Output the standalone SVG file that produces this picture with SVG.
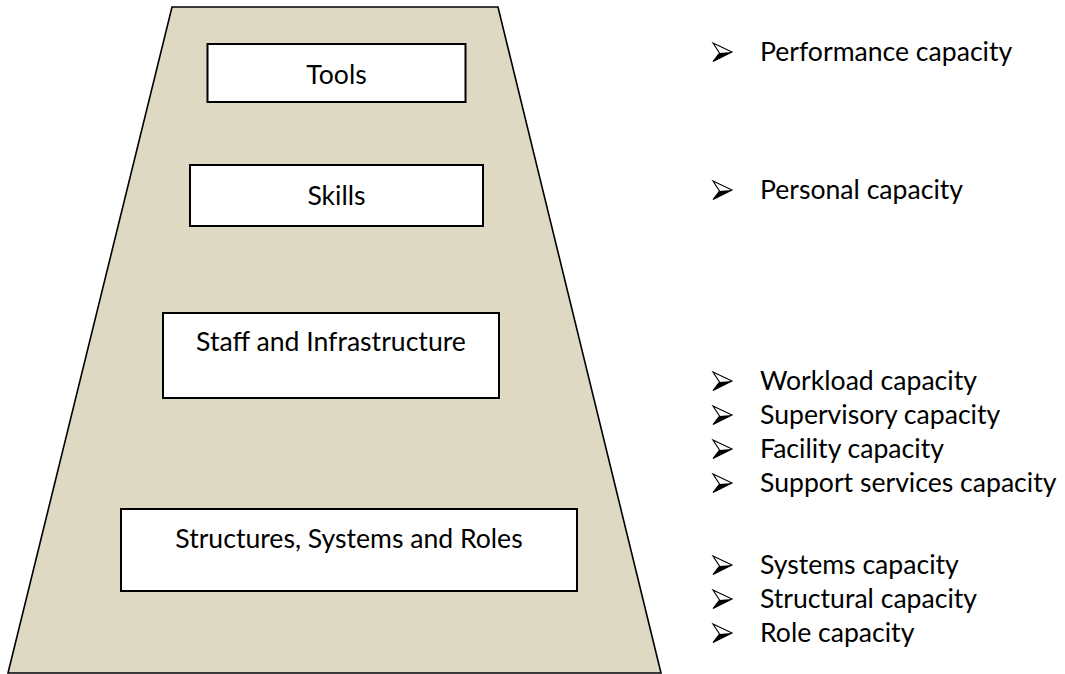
<svg xmlns="http://www.w3.org/2000/svg" width="1065" height="674" viewBox="0 0 1065 674">
  <style>
    .base { fill: #DDD9C3; stroke: #000; stroke-width: 1.6; stroke-linejoin: miter; }
    .box { fill: #fff; stroke: #000; stroke-width: 2; }
    .lbl { font-family: Lato, "Open Sans", "Liberation Sans", sans-serif; font-size: 26.6px; fill: #000; }
    .mid { text-anchor: middle; }
  </style>
  <defs>
    <!-- 3D arrowhead bullet: light upper face, dark lower face -->
    <g id="bullet">
      <path d="M0,-9 L19,0 L0,9.5 L6.5,1 Z" fill="#fff" stroke="#000" stroke-width="1.1" stroke-linejoin="miter"/>
      <path d="M6.5,1 L19,0 L0,9.5 Z" fill="#000"/>
    </g>
  </defs>

  <!-- pyramid base -->
  <g id="pyramid">
    <polygon class="base" points="172,7 498,7 661,673 8,673"/>
  </g>

  <g id="tools">
    <rect class="box" x="207.5" y="44" width="258" height="58"/>
    <text class="lbl mid" x="336.5" y="84">Tools</text>
  </g>
  <g id="skills">
    <rect class="box" x="190" y="165" width="293" height="61"/>
    <text class="lbl mid" x="336.5" y="205">Skills</text>
  </g>
  <g id="staff">
    <rect class="box" x="163" y="313" width="336" height="85"/>
    <text class="lbl mid" x="331" y="351">Staff and Infrastructure</text>
  </g>
  <g id="structures">
    <rect class="box" x="121" y="509" width="456" height="82"/>
    <text class="lbl mid" x="349" y="548">Structures, Systems and Roles</text>
  </g>

  <g id="connectors"></g>

  <!-- capacity lists -->
  <g id="list-tools">
    <use href="#bullet" x="713" y="52"/>
    <text class="lbl" x="760" y="61">Performance capacity</text>
  </g>
  <g id="list-skills">
    <use href="#bullet" x="713" y="190"/>
    <text class="lbl" x="760" y="199">Personal capacity</text>
  </g>
  <g id="list-staff">
    <use href="#bullet" x="713" y="381"/>
    <text class="lbl" x="760" y="390">Workload capacity</text>
    <use href="#bullet" x="713" y="415"/>
    <text class="lbl" x="760" y="424">Supervisory capacity</text>
    <use href="#bullet" x="713" y="449"/>
    <text class="lbl" x="760" y="458">Facility capacity</text>
    <use href="#bullet" x="713" y="483"/>
    <text class="lbl" x="760" y="492">Support services capacity</text>
  </g>
  <g id="list-structures">
    <use href="#bullet" x="713" y="565"/>
    <text class="lbl" x="760" y="574">Systems capacity</text>
    <use href="#bullet" x="713" y="599"/>
    <text class="lbl" x="760" y="608">Structural capacity</text>
    <use href="#bullet" x="713" y="633"/>
    <text class="lbl" x="760" y="642">Role capacity</text>
  </g>
</svg>
